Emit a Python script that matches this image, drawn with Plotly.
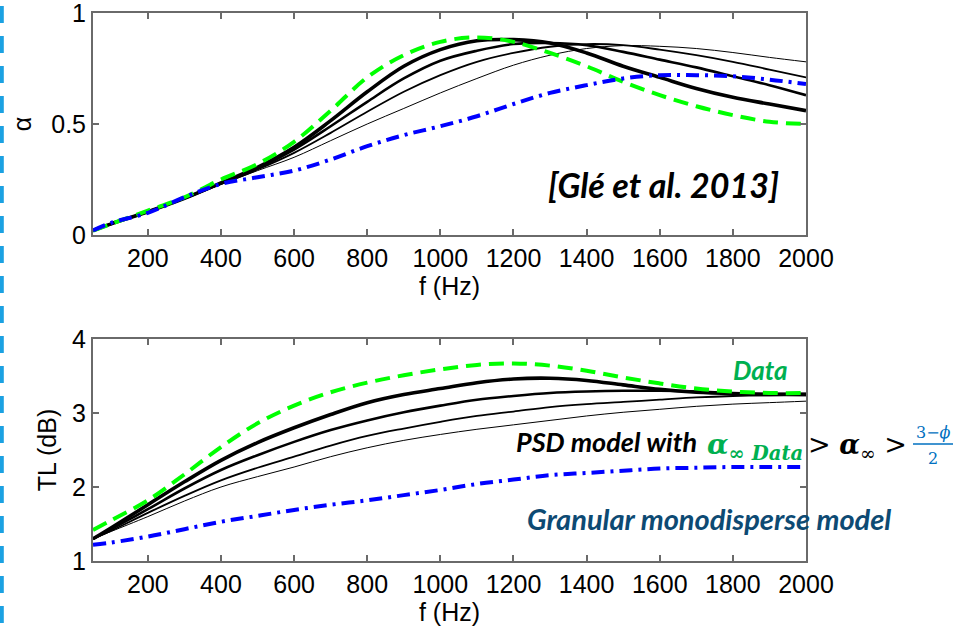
import plotly.graph_objects as go

# ---------------- data ----------------
freq = [50, 100, 200, 300, 400, 500, 600, 700, 800, 900, 1000,
        1100, 1200, 1300, 1400, 1500, 1600, 1700, 1800, 1900, 2000]

# absorption coefficient (top panel)
alpha_data = [0.02, 0.05, 0.11, 0.17, 0.25, 0.32, 0.42, 0.56, 0.71, 0.81, 0.87,
              0.89, 0.87, 0.82, 0.76, 0.69, 0.63, 0.58, 0.54, 0.51, 0.50]
alpha_psd1 = [0.02, 0.05, 0.105, 0.165, 0.235, 0.305, 0.395, 0.515, 0.645, 0.76, 0.835,
              0.875, 0.88, 0.865, 0.82, 0.76, 0.71, 0.66, 0.62, 0.59, 0.56]
alpha_psd2 = [0.02, 0.05, 0.105, 0.165, 0.232, 0.30, 0.385, 0.49, 0.60, 0.705, 0.785,
              0.83, 0.86, 0.865, 0.855, 0.825, 0.79, 0.755, 0.715, 0.675, 0.63]
alpha_psd3 = [0.02, 0.05, 0.105, 0.165, 0.23, 0.295, 0.37, 0.46, 0.555, 0.645, 0.72,
              0.78, 0.82, 0.848, 0.86, 0.855, 0.835, 0.81, 0.78, 0.745, 0.71]
alpha_psd4 = [0.02, 0.05, 0.105, 0.165, 0.228, 0.29, 0.35, 0.425, 0.50, 0.57, 0.64,
              0.705, 0.765, 0.81, 0.84, 0.853, 0.85, 0.84, 0.822, 0.80, 0.78]
alpha_mono = [0.02, 0.055, 0.10, 0.17, 0.23, 0.26, 0.29, 0.34, 0.40, 0.45, 0.49,
              0.535, 0.59, 0.64, 0.675, 0.705, 0.72, 0.72, 0.715, 0.70, 0.68]

# transmission loss (bottom panel)
tl_data = [1.42, 1.55, 1.82, 2.17, 2.54, 2.86, 3.10, 3.28, 3.41, 3.51, 3.59,
           3.65, 3.67, 3.64, 3.57, 3.48, 3.40, 3.33, 3.29, 3.27, 3.27]
tl_psd1 = [1.30, 1.45, 1.76, 2.07, 2.36, 2.60, 2.80, 2.98, 3.14, 3.25, 3.33,
           3.41, 3.46, 3.47, 3.44, 3.38, 3.32, 3.28, 3.26, 3.25, 3.25]
tl_psd2 = [1.30, 1.43, 1.70, 1.98, 2.23, 2.43, 2.61, 2.77, 2.90, 3.01, 3.10,
           3.18, 3.23, 3.27, 3.29, 3.30, 3.30, 3.29, 3.27, 3.26, 3.26]
tl_psd3 = [1.30, 1.41, 1.65, 1.88, 2.09, 2.26, 2.41, 2.56, 2.69, 2.79, 2.88,
           2.96, 3.02, 3.08, 3.12, 3.15, 3.18, 3.21, 3.23, 3.24, 3.24]
tl_psd4 = [1.30, 1.40, 1.60, 1.81, 2.00, 2.14, 2.27, 2.41, 2.53, 2.63, 2.71,
           2.78, 2.84, 2.90, 2.96, 3.01, 3.05, 3.09, 3.12, 3.14, 3.16]
tl_mono = [1.22, 1.25, 1.33, 1.43, 1.53, 1.61, 1.69, 1.76, 1.82, 1.89, 1.96,
           2.04, 2.10, 2.16, 2.19, 2.22, 2.25, 2.26, 2.27, 2.27, 2.27]

x_ticks = [200, 400, 600, 800, 1000, 1200, 1400, 1600, 1800, 2000]
alpha_ticks = [0, 0.5, 1]
tl_ticks = [1, 2, 3, 4]

# ---------------- figure ----------------
W, H = 961, 627
L, R, T, B = 93, 155, 13, 66
PW, PH = W - L - R, H - T - B


def px(xp):
    return (xp - L) / PW


def py(yp):
    return (H - B - yp) / PH


fig = go.Figure()

black_widths = [1.0, 1.8, 2.6, 3.6]
for panel, (xa, ya) in enumerate([("x", "y"), ("x2", "y2")]):
    if panel == 0:
        psd = [alpha_psd4, alpha_psd3, alpha_psd2, alpha_psd1]
        mono, data = alpha_mono, alpha_data
    else:
        psd = [tl_psd4, tl_psd3, tl_psd2, tl_psd1]
        mono, data = tl_mono, tl_data
    for vals, w in zip(psd, black_widths):
        fig.add_trace(go.Scatter(x=freq, y=vals, mode="lines", xaxis=xa, yaxis=ya,
                                 line=dict(color="black", width=w, shape="spline")))
    fig.add_trace(go.Scatter(x=freq, y=data, mode="lines", xaxis=xa, yaxis=ya,
                             line=dict(color="#00FF00", width=4, shape="spline",
                                       dash="15px,8px")))
    fig.add_trace(go.Scatter(x=freq, y=mono, mode="lines", xaxis=xa, yaxis=ya,
                             line=dict(color="#0000FF", width=4, shape="spline",
                                       dash="13px,6px,3px,6px")))

tickfont = dict(family="Liberation Sans, Arial", size=25, color="black")
axis_common = dict(showline=True, linecolor="#6a6a6a", linewidth=2, mirror="ticks",
                   ticks="inside", ticklen=6, tickwidth=2, tickcolor="#6a6a6a",
                   showgrid=False, zeroline=False, tickfont=tickfont,
                   automargin=False, layer="above traces",
                   ticklabeloverflow="allow")

dom_top = [py(235), 1]
dom_bot = [0, py(339)]

fig.update_layout(
    width=W, height=H, showlegend=False,
    margin=dict(l=L, r=R, t=T, b=B),
    plot_bgcolor="white", paper_bgcolor="white",
    xaxis=dict(range=[50, 2000], tickvals=x_ticks, domain=[0, 1], anchor="y",
               title=dict(text="f (Hz)", font=tickfont, standoff=0), **axis_common),
    yaxis=dict(range=[0, 1], tickvals=alpha_ticks, ticktext=["0", "0.5", "1"],
               domain=dom_top, anchor="x",
               title=dict(text="α", font=tickfont, standoff=12), **axis_common),
    xaxis2=dict(range=[50, 2000], tickvals=x_ticks, domain=[0, 1], anchor="y2",
                title=dict(text="f (Hz)", font=tickfont, standoff=0), **axis_common),
    yaxis2=dict(range=[1, 4], tickvals=tl_ticks, domain=dom_bot, anchor="x2",
                title=dict(text="TL (dB)", font=tickfont, standoff=8), **axis_common),
)

hum = "Lato, Open Sans, sans-serif"
math = "DejaVu Serif, serif"

ann = [
    dict(text="[Glé et al. 2013]", x=px(781), y=py(184), xanchor="right",
         font=dict(family=hum, size=34, color="black", weight="bold", style="italic")),
    dict(text="Data", x=px(790), y=py(370), xanchor="right",
         font=dict(family=hum, size=26, color="#00B050", weight="bold", style="italic")),
    dict(text="PSD model with", x=px(699), y=py(441), xanchor="right",
         font=dict(family=hum, size=27, color="black", weight="bold", style="italic")),
    dict(text="α<sub>∞ Data</sub>", x=px(705), y=py(446), xanchor="left",
         font=dict(family=math, size=28, color="#00B050", weight="bold", style="italic")),
    dict(text="> <b><i>α</i></b><sub>∞</sub> >", x=px(806), y=py(446), xanchor="left",
         font=dict(family=math, size=27, color="black")),
    dict(text="3−<i>ϕ</i>", x=px(933), y=py(432), xanchor="center",
         font=dict(family=math, size=16, color="#0070C0")),
    dict(text="2", x=px(933), y=py(458), xanchor="center",
         font=dict(family=math, size=16, color="#0070C0")),
    dict(text="Granular monodisperse model", x=px(893), y=py(518), xanchor="right",
         font=dict(family=hum, size=29, color="#0D4A73", weight="bold", style="italic")),
]
for a in ann:
    fig.add_annotation(xref="paper", yref="paper", showarrow=False, yanchor="middle", **a)

# fraction bar
fig.add_shape(type="line", xref="paper", yref="paper",
              x0=px(913), x1=px(953), y0=py(444), y1=py(444),
              line=dict(color="#0070C0", width=1.5))
# dashed border on the left
fig.add_shape(type="line", xref="paper", yref="paper",
              x0=px(1.8), x1=px(1.8), y0=py(6), y1=py(640),
              line=dict(color="#1BA1E2", width=4, dash="17px,13px"))

fig.write_html("out.html", config={"displayModeBar": False},
               post_script="document.body.style.margin='0px';"
                           "document.body.style.overflow='hidden';")
